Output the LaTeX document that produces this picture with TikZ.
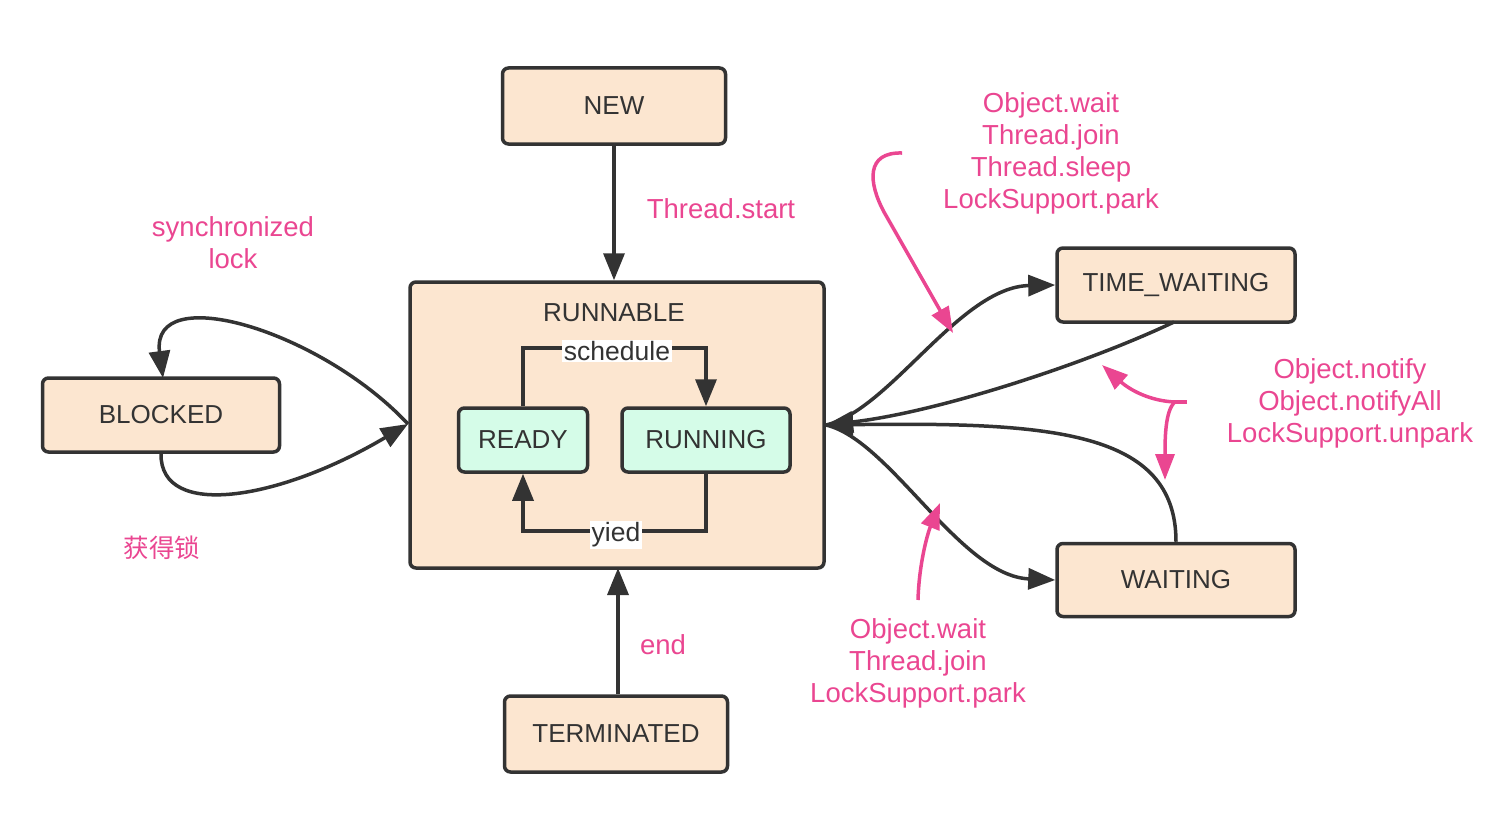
\documentclass[tikz,border=0pt]{standalone}
\usepackage{fontspec}
\setmainfont{Liberation Sans}
\newfontfamily\cjk{Noto Sans CJK SC}
\usetikzlibrary{arrows.meta}
\definecolor{peach}{RGB}{252,230,208}
\definecolor{mint}{RGB}{213,252,232}
\definecolor{edge}{RGB}{51,51,51}
\definecolor{pinkc}{RGB}{234,70,145}
\tikzset{
  x=1pt,y=-1pt,
  state/.style={draw=edge,line width=3.5pt,fill=peach,rounded corners=6pt,inner sep=0pt,text=edge,font=\fontsize{26}{30}\selectfont},
  sub/.style={state,fill=mint},
  arr/.style={draw=edge,line width=3.5pt,-{Triangle[length=27pt,width=21pt]}},
  parr/.style={draw=pinkc,line width=3.5pt,-{Triangle[length=26pt,width=19pt]}},
  pline/.style={draw=pinkc,line width=3.5pt},
  plabel/.style={text=pinkc,align=center,inner sep=0pt,font=\fontsize{27.5}{32}\selectfont},
  tag/.style={fill=white,inner sep=1.5pt,text=edge,font=\fontsize{26.5}{30}\selectfont}
}
\begin{document}
\begin{tikzpicture}
\useasboundingbox (0,0) rectangle (1502,816);
% states
\node[state,minimum width=223pt,minimum height=76pt] (new) at (614,106) {NEW};
\node[state,minimum width=414pt,minimum height=286pt] (runnable) at (617,425) {};
\node[text=edge,font=\fontsize{26}{30}\selectfont] (rlabel) at (614,313) {RUNNABLE};
\node[sub,minimum width=129pt,minimum height=64pt] (ready) at (523,440) {READY};
\node[sub,minimum width=168pt,minimum height=64pt] (running) at (706,440) {RUNNING};
\node[state,minimum width=237pt,minimum height=74pt] (blocked) at (161,415) {BLOCKED};
\node[state,minimum width=238pt,minimum height=74pt] (tw) at (1176,285) {TIME\_WAITING};
\node[state,minimum width=238pt,minimum height=73pt] (waiting) at (1176,580) {WAITING};
\node[state,minimum width=223pt,minimum height=76pt] (term) at (616,734) {TERMINATED};
% coordinates
\coordinate (rE) at (826,425);
\coordinate (rW) at (408,424);
\coordinate (sL) at (523,348);
\coordinate (sR) at (706,348);
\coordinate (yL) at (523,531);
\coordinate (yR) at (706,531);
% vertical arrows
\draw[arr] (new.south) -- (new.south |- runnable.north);
\draw[arr] (term.north -| 618,0) -- (618,568);
% inner loop
\draw[arr] (ready.north) -- (sL) -- (sR) -- (running.north);
\draw[arr] (running.south) -- (yR) -- (yL) -- (ready.south);
\node[tag] (sched) at (617,351) {schedule};
\node[tag] (yied) at (616,535) {yied};
% blocked loop
\draw[arr] (rW) .. controls (320,330) and (150,280) .. (163,378);
\draw[arr] (blocked.south) .. controls (160,520) and (280,500) .. (rW);
% right side
\draw[arr] (rE) .. controls (890,410) and (960,287) .. (tw.west);
\draw[arr] (rE) .. controls (890,440) and (960,576) .. (waiting.west);
\draw[arr] (1174,322) .. controls (1090,362) and (940,412) .. (rE);
\draw[arr] (waiting.north) .. controls (1176,430) and (1050,422) .. (rE);
% pink arrows
\draw[parr] (902,153) .. controls (866,152) and (868,182) .. (884,212) -- (953,333);
\coordinate (br) at (1187,402);
\draw[pline] (br) -- (1175,402);
\draw[parr] (1175,402) .. controls (1150,401) and (1130,390) .. (1102,365);
\draw[parr] (1175,402) .. controls (1165,410) and (1165,440) .. (1165,480);
\draw[parr] (918,600) .. controls (919,565) and (927,535) .. (940,503);
% labels
\node[plabel] (lstart) at (721,209) {Thread.start};
\node[plabel] (lend) at (663,645) {end};
\node[plabel] (lsync) at (233,243) {synchronized\\lock};
\node[plabel,font=\cjk\fontsize{25.5}{30}\selectfont] (llock) at (162,548) {获得锁};
\node[plabel] (ltw) at (1051,153) {Object.wait\\Thread.join\\Thread.sleep\\LockSupport.park};
\node[plabel] (lnot) at (1350,403) {Object.notify\\Object.notifyAll\\LockSupport.unpark};
\node[plabel] (lw) at (918,663) {Object.wait\\Thread.join\\LockSupport.park};
\end{tikzpicture}
\end{document}
